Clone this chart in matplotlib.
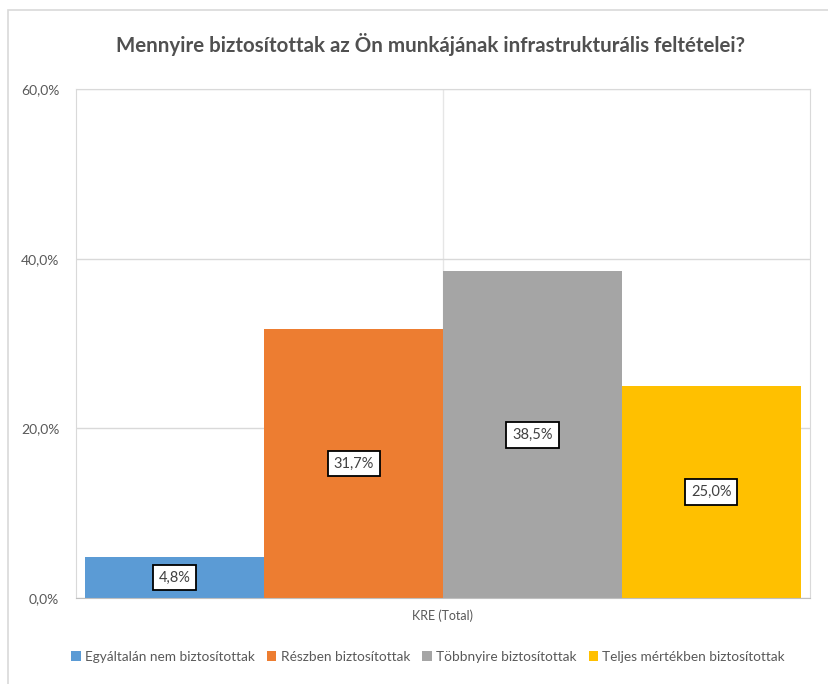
import numpy as np
import matplotlib.pyplot as plt
from matplotlib.patches import Rectangle

plt.rcParams['font.family'] = ['Lato', 'DejaVu Sans']

title = "Mennyire biztosítottak az Ön munkájának infrastrukturális feltételei?"
category = "KRE (Total)"
series = ["Egyáltalán nem biztosítottak", "Részben biztosítottak",
          "Többnyire biztosítottak", "Teljes mértékben biztosítottak"]
values = [4.8, 31.7, 38.5, 25.0]
colors = ["#5b9bd5", "#ed7d31", "#a5a5a5", "#ffc000"]
yticks = [0, 20, 40, 60]

fig = plt.figure(figsize=(8.29, 6.84), dpi=100)
# outer chart frame
fig.patches.append(Rectangle((8 / 829, -0.01), 1.0, 1 - 10 / 684 + 0.01,
                             transform=fig.transFigure, fill=False,
                             edgecolor="#d9d9d9", lw=1.2))

ax = fig.add_axes([76 / 829, 1 - 598 / 684, (810 - 76) / 829, (598 - 89) / 684])

n = len(values)
group = 0.975
w = group / n
x0 = -group / 2
for i, (v, c, s) in enumerate(zip(values, colors, series)):
    xc = x0 + w * (i + 0.5)
    ax.bar(xc, v, width=w, color=c, label=s, zorder=2)
    ax.text(xc, v / 2, f"{v:.1f}%".replace(".", ","), ha="center", va="center",
            fontsize=10.5, color="#404040", zorder=3,
            bbox=dict(boxstyle="square,pad=0.4", fc="white", ec="black", lw=1.3))

ax.set_xlim(-0.5, 0.5)
ax.set_ylim(0, 60)
ax.set_yticks(yticks)
ax.set_yticklabels([f"{t:.1f}%".replace(".", ",") for t in yticks],
                   fontsize=10, color="#595959")
ax.set_xticks([0])
ax.set_xticklabels([category], fontsize=9, color="#595959")
ax.tick_params(length=0, pad=8)
ax.tick_params(axis="y", pad=12)
ax.grid(axis="y", color="#d9d9d9", lw=1, zorder=0)
ax.axvline(0, color="#e6e6e6", lw=1, zorder=0)
for side in ["top", "right", "left"]:
    ax.spines[side].set_color("#d9d9d9")
ax.spines["bottom"].set_color("#bfbfbf")

fig.text(431 / 829, 1 - 44 / 684, title, ha="center", va="center",
         fontsize=14.8, fontweight="bold", color="#505050")

fig.legend(loc="center", bbox_to_anchor=(428 / 829, 1 - 657 / 684), ncol=4,
           frameon=False, fontsize=9.8, labelcolor="#595959",
           handlelength=0.7, handleheight=0.7, handletextpad=0.3, columnspacing=0.9)

fig.savefig("out.png", dpi=100)
